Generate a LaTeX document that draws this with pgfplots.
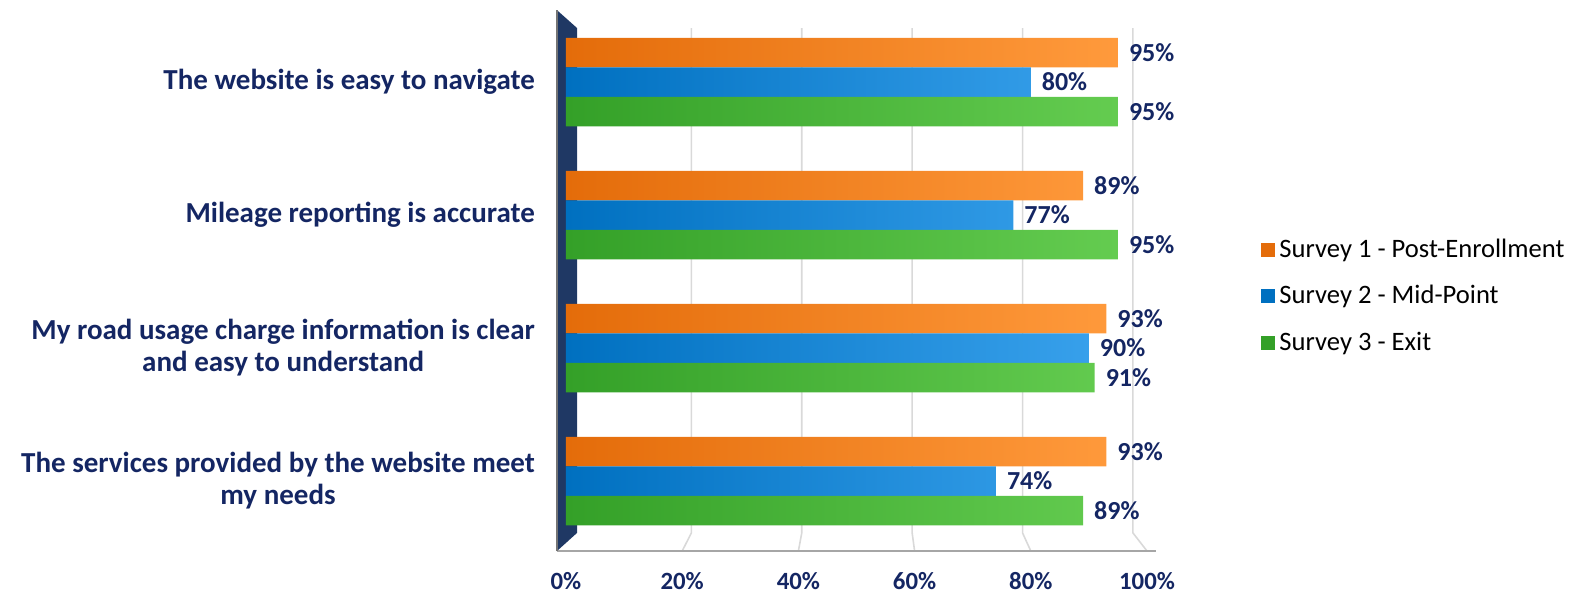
\documentclass[border=0pt]{standalone}
\usepackage{pgfplots}
\pgfplotsset{compat=1.18}
\usepackage{fontspec}
\setmainfont{Carlito}
\definecolor{navy}{RGB}{20,38,99}
\definecolor{wall}{RGB}{31,56,100}
\definecolor{oD}{RGB}{228,108,10}
\definecolor{oL}{RGB}{255,154,60}
\definecolor{bD}{RGB}{0,112,192}
\definecolor{bL}{RGB}{55,160,235}
\definecolor{gD}{RGB}{52,160,40}
\definecolor{gL}{RGB}{100,204,80}
\definecolor{gridc}{RGB}{217,217,217}
\definecolor{floorc}{RGB}{166,166,166}
\begin{document}
\begin{tikzpicture}
\useasboundingbox (0,0) rectangle (788pt,298pt);
\begin{axis}[
  at={(283pt,22.5pt)}, anchor=south west,
  scale only axis, width=290.5pt, height=267.75pt,
  xmin=0, xmax=100, ymin=-0.5, ymax=3.526, y dir=reverse,
  clip=false,
  axis line style={draw=none}, major tick length=0pt,
  /pgf/number format/assume math mode=true,
  xtick={0,20,...,100},
  xticklabel={\pgfmathprintnumber{\tick}\%},
  xticklabel style={font=\fontsize{12.4}{14}\selectfont\bfseries, text=navy, inner sep=0pt, yshift=-10.5pt},
  ytick={0,1,2,3},
  yticklabels={The website is easy to navigate, Mileage reporting is accurate, {My road usage charge information is clear\\and easy to understand}, {The services provided by the website meet\\my needs}},
  yticklabel style={align=center, font=\fontsize{14.5}{16}\selectfont\bfseries, text=navy, xshift=-12pt},
  xbar, bar width=14.75pt,
  point meta=x,
  nodes near coords={\pgfmathprintnumber{\pgfplotspointmeta}\%},
  nodes near coords style={font=\fontsize{13}{14}\selectfont\bfseries, text=navy, anchor=west, xshift=2pt},
  legend style={draw=none, fill=none, at={(1.186,0.476)}, anchor=west,
    font=\fontsize{13.3}{15}\selectfont, row sep=8.5pt, cells={anchor=west}},
  legend image code/.code={\fill[#1] (0pt,-3.5pt) rectangle (7pt,3.5pt);},
]
% decorations: back wall, gridlines, floor
\fill[wall] (axis cs:-1.55,-0.54) -- (axis cs:1.9,-0.406) -- (axis cs:1.9,3.39) -- (axis cs:-1.55,3.526) -- cycle;
\draw[gridc, line width=0.8pt] (axis cs:21.58,-0.406) -- (axis cs:21.58,3.39) -- (axis cs:20,3.526);
\draw[gridc, line width=0.8pt] (axis cs:40.58,-0.406) -- (axis cs:40.58,3.39) -- (axis cs:40,3.526);
\draw[gridc, line width=0.8pt] (axis cs:59.58,-0.406) -- (axis cs:59.58,3.39) -- (axis cs:60,3.526);
\draw[gridc, line width=0.8pt] (axis cs:78.58,-0.406) -- (axis cs:78.58,3.39) -- (axis cs:80,3.526);
\draw[gridc, line width=0.8pt] (axis cs:97.58,-0.406) -- (axis cs:97.58,3.39) -- (axis cs:100,3.526);
\draw[floorc, line width=1pt] (axis cs:-1.55,3.526) -- (axis cs:101.5,3.526);
\draw[floorc!70!black, line width=1pt] (axis cs:-1.55,-0.54) -- (axis cs:-1.55,3.526);

\addlegendimage{draw=none, fill=oD}
\addlegendimage{draw=none, fill=bD}
\addlegendimage{draw=none, fill=gD}
\addplot[forget plot, draw=none, left color=oD, right color=oL, bar shift=14.75pt] coordinates {(95,0) (89,1) (93,2) (93,3)};
\addplot[forget plot, draw=none, left color=bD, right color=bL, bar shift=0pt] coordinates {(80,0) (77,1) (90,2) (74,3)};
\addplot[forget plot, draw=none, left color=gD, right color=gL, bar shift=-14.75pt] coordinates {(95,0) (95,1) (91,2) (89,3)};
\legend{Survey 1 - Post-Enrollment, Survey 2 - Mid-Point, Survey 3 - Exit}
\end{axis}
\end{tikzpicture}
\end{document}
